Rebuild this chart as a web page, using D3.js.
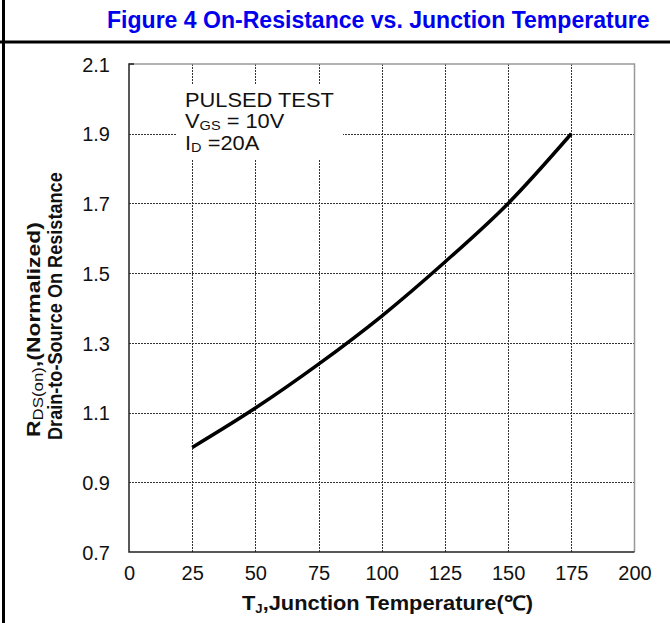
<!DOCTYPE html>
<html>
<head>
<meta charset="utf-8">
<script src="https://cdn.jsdelivr.net/npm/d3@7"></script>
<style>
  body { margin: 0; background: #fff; }
  svg { display: block; font-family: Arial, "Liberation Sans", sans-serif; }
</style>
</head>
<body>
<svg id="chart"></svg>
<script>
// chart data
const tempC = [25, 50, 75, 100, 125, 150, 175];
const rdsNorm = [1.0, 1.113, 1.239, 1.377, 1.532, 1.70, 1.90];
const xTicks = [0, 25, 50, 75, 100, 125, 150, 175, 200];
const yTicks = [0.7, 0.9, 1.1, 1.3, 1.5, 1.7, 1.9, 2.1];
const noteLines = ["PULSED TEST", "V|GS| = 10V", "I|D| =20A"];

const width = 670, height = 623;
const font = "Arial, 'Liberation Sans', sans-serif";
const svg = d3.select("#chart").attr("width", width).attr("height", height);

const x = d3.scaleLinear().domain([0, 200]).range([129, 634.5]);
const y = d3.scaleLinear().domain([0.7, 2.1]).range([552, 64]);

// squeeze a text (built at 0,0 inside g) to a target width
function fit(g, target) {
  const w = g.node().getBBox().width;
  g.attr("transform", g.attr("transform") + ` scale(${target / w},1)`);
}

// page frame lines
svg.append("line").attr("x1", 3.5).attr("x2", 3.5).attr("y1", 0).attr("y2", height)
  .attr("stroke", "#000").attr("stroke-width", 3);
svg.append("line").attr("x1", 0).attr("x2", width).attr("y1", 42).attr("y2", 42)
  .attr("stroke", "#000").attr("stroke-width", 3);

// title
const tg = svg.append("g").attr("transform", "translate(107,28)");
tg.append("text")
  .attr("font-size", 24).attr("font-weight", "bold")
  .attr("fill", "#0000ee")
  .text("Figure 4 On-Resistance vs. Junction Temperature");
fit(tg, 543);

// grid
const grid = svg.append("g").attr("stroke", "#333").attr("stroke-width", 1).attr("stroke-dasharray", "2,1");
grid.selectAll("line.v").data(xTicks.slice(1, -1)).enter().append("line")
  .attr("x1", d => Math.round(x(d)) + 0.5).attr("x2", d => Math.round(x(d)) + 0.5)
  .attr("y1", y(2.1)).attr("y2", y(0.7));
grid.selectAll("line.h").data(yTicks.slice(1, -1)).enter().append("line")
  .attr("y1", d => Math.round(y(d)) + 0.5).attr("y2", d => Math.round(y(d)) + 0.5)
  .attr("x1", x(0)).attr("x2", x(200));

// note box (white background hides grid)
svg.append("rect").attr("x", 177).attr("y", 85).attr("width", 166).attr("height", 75).attr("fill", "#fff");
const note = svg.append("g").attr("transform", "translate(185,0) scale(1.12,1)");
noteLines.forEach((line, i) => {
  const parts = line.split("|");
  const t = note.append("text").attr("x", 0).attr("y", 107 + i * 21.5)
    .attr("font-size", 19.5).attr("fill", "#111");
  t.append("tspan").text(parts[0]);
  if (parts.length > 1) {
    t.append("tspan").attr("font-size", 13).attr("dy", 2).text(parts[1]);
    t.append("tspan").attr("dy", -2).text(parts[2]);
  }
});

// plot frame
svg.append("path")
  .attr("d", `M${x(0)},${y(2.1)}H${x(200)}V${y(0.7)}`)
  .attr("fill", "none").attr("stroke", "#999").attr("stroke-width", 1.5);
svg.append("path")
  .attr("d", `M${x(0) + 5},${y(2.1)}H${x(0)}V${y(0.7)}H${x(200)}`)
  .attr("fill", "none").attr("stroke", "#222").attr("stroke-width", 1.5);

// axes labels
const xAxis = d3.axisBottom(x).tickValues(xTicks).tickSize(0).tickPadding(14);
svg.append("g").attr("transform", `translate(0,${y(0.7)})`).call(xAxis)
  .call(g => g.select(".domain").remove())
  .selectAll("text").attr("font-size", 20).attr("fill", "#111").attr("font-family", font);

const yAxis = d3.axisLeft(y).tickValues(yTicks).tickFormat(d3.format(".1f")).tickSize(0).tickPadding(19);
svg.append("g").attr("transform", `translate(${x(0)},0)`).call(yAxis)
  .call(g => g.select(".domain").remove())
  .selectAll("text").attr("font-size", 20).attr("fill", "#111").attr("font-family", font)
  .attr("dy", "0.36em");

// curve
const line = d3.line().x(d => x(d[0])).y(d => y(d[1])).curve(d3.curveMonotoneX);
svg.append("path")
  .datum(tempC.map((t, i) => [t, rdsNorm[i]]))
  .attr("d", line)
  .attr("fill", "none").attr("stroke", "#000").attr("stroke-width", 3.5);

// x title
const xg = svg.append("g").attr("transform", "translate(242,610)");
const xt = xg.append("text")
  .attr("font-size", 20).attr("font-weight", "bold").attr("fill", "#111");
xt.append("tspan").text("T");
xt.append("tspan").attr("font-size", 12).attr("dy", 3).text("J");
xt.append("tspan").attr("dy", -3).text(",Junction Temperature(\u2103)");
fit(xg, 291);

// y title
const yg1 = svg.append("g").attr("transform", "translate(40,437) rotate(-90)");
const y1 = yg1.append("text")
  .attr("font-size", 19).attr("font-weight", "bold").attr("fill", "#111");
y1.append("tspan").text("R");
y1.append("tspan").attr("font-size", 14).attr("dy", 3).attr("font-weight", "normal").text("DS(on)");
y1.append("tspan").attr("dy", -3).text(",(Normalized)");
fit(yg1, 215);

const yg2 = svg.append("g").attr("transform", "translate(62,440) rotate(-90)");
yg2.append("text")
  .attr("font-size", 19.5).attr("font-weight", "bold").attr("fill", "#111")
  .text("Drain-to-Source On Resistance");
fit(yg2, 268);
</script>
</body>
</html>
